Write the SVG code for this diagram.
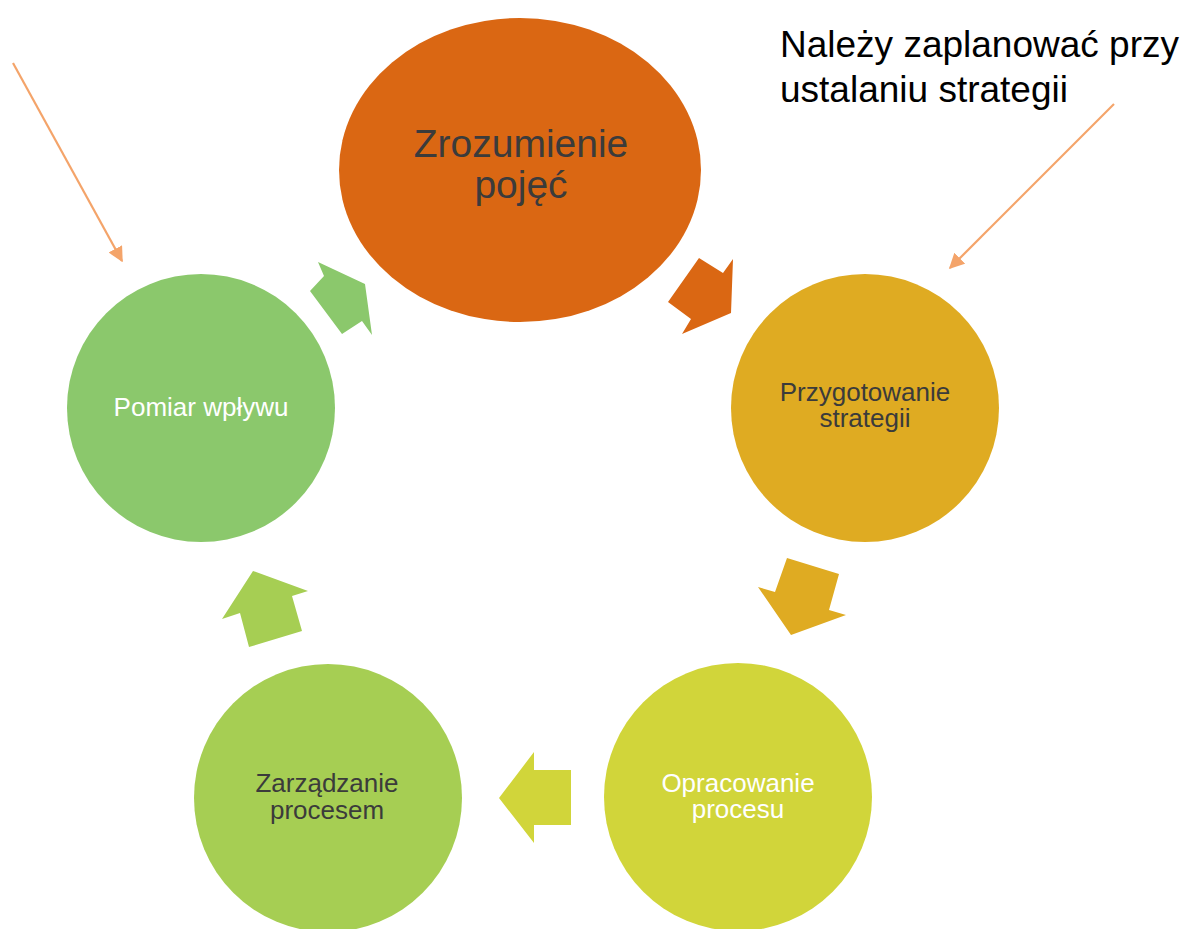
<svg xmlns="http://www.w3.org/2000/svg" width="1188" height="929" viewBox="0 0 1188 929">
<defs>
<style>
text{font-family:"Liberation Sans",Arial,sans-serif;text-anchor:middle}
.lbl{font-size:26px}
.dark{fill:#3B3B3B}
.light{fill:#FFFFFF}
.note{stroke:#F4A46A;stroke-width:2.2;fill:none}
</style>
<marker id="ah" viewBox="0 0 10 10" refX="9" refY="5" markerWidth="7" markerHeight="7" markerUnits="strokeWidth" orient="auto">
<path d="M0,0 L10,5 L0,10 z" fill="#F4A46A"/>
</marker>
</defs>
<rect width="1188" height="929" fill="#FFFFFF"/>
<g id="connectors">
<polygon points="699,258 723,273 733,259 731,313 682,334 691,319 668,302" fill="#DA6713"/>
<polygon points="787,558 839,574 829,610 846,615 791,635 758,587 775,592" fill="#DFAB22"/>
<polygon points="534,752 534,770 571,770 571,825 534,825 534,843 499,798" fill="#D1D53A"/>
<polygon points="253,571 308,591 292,596 302,631 249,647 240,613 222,619" fill="#A6CE53"/>
<polygon points="318,262 324,276 310,291 342,334 362,321 372,335 365,284" fill="#8BC86C"/>
<line class="note" x1="13" y1="63" x2="122" y2="261" marker-end="url(#ah)"/>
<line class="note" x1="1114" y1="104" x2="950" y2="268" marker-end="url(#ah)"/>
</g>
<g id="node-zrozumienie">
<ellipse cx="520" cy="170" rx="181" ry="152" fill="#DA6713"/>
<text class="dark" x="521" y="157" font-size="39">Zrozumienie</text>
<text class="dark" x="521" y="198" font-size="39">pojęć</text>
</g>
<g id="node-przygotowanie">
<circle cx="865" cy="408" r="134" fill="#DFAB22"/>
<text class="lbl dark" x="865" y="401">Przygotowanie</text>
<text class="lbl dark" x="865" y="427">strategii</text>
</g>
<g id="node-opracowanie">
<circle cx="738" cy="797" r="134" fill="#D1D53A"/>
<text class="lbl light" x="738" y="792">Opracowanie</text>
<text class="lbl light" x="738" y="818">procesu</text>
</g>
<g id="node-zarzadzanie">
<circle cx="328" cy="798" r="134" fill="#A6CE53"/>
<text class="lbl dark" x="327" y="792">Zarządzanie</text>
<text class="lbl dark" x="327" y="819">procesem</text>
</g>
<g id="node-pomiar">
<circle cx="201" cy="408" r="134" fill="#8BC86C"/>
<text class="lbl light" x="201" y="416">Pomiar wpływu</text>
</g>
<g id="note">
<text x="780" y="57" font-size="37" fill="#000000" style="text-anchor:start">Należy zaplanować przy</text>
<text x="780" y="102" font-size="37" fill="#000000" style="text-anchor:start">ustalaniu strategii</text>
</g>
</svg>
